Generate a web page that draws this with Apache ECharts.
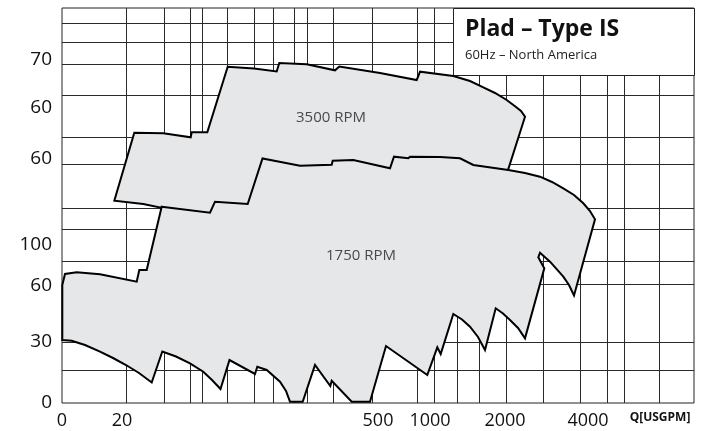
<!DOCTYPE html>
<html>
<head>
<meta charset="utf-8">
<script src="https://cdn.jsdelivr.net/npm/echarts@6/dist/echarts.min.js"></script>
<style>html,body{margin:0;padding:0;background:#fff}#c{width:707px;height:431px}</style>
</head>
<body>
<div id="c"></div>
<script>
// Chart units: x 0..632 (left to right), y 0..395 (bottom to top)
const xTickPos = [0, 60, 316, 368, 443, 526, 598];
const xTickLabels = ['0', '20', '500', '1000', '2000', '4000', 'Q[USGPM]'];
const yTickPos = [0, 61.3, 117, 158, 244, 295, 343];
const yTickLabels = ['0', '30', '60', '100', '60', '60', '70'];

const xGridLines = [64, 102, 128.3, 140, 164.7, 192.3, 211.3, 232, 245, 271.3, 309.7, 354.7, 372.3, 395.3, 417.3, 443.5, 481.3, 518, 545.3, 562, 597.3];
const yGridLines = [379.7, 360.7, 338.7, 308, 266.3, 238.7, 194.7, 173.7, 142, 119, 60.7, 32.7];

const rpm3500 = [
  [52.3, 202.3], [72.3, 270.3], [101.3, 269.7], [128.7, 265.7], [129.7, 270.7], [145.3, 270.7],
  [165.7, 336.3], [192, 334.5], [214.7, 331.5], [217.3, 340], [244.7, 338.7], [273, 332.7],
  [277.3, 336.5], [318, 330], [354.7, 323], [358, 331.3], [391.3, 327], [408, 322], [421.3, 315.7],
  [433, 310], [444.7, 303], [454, 296], [459, 292], [463, 286.3], [446, 233],
  [438, 218], [206, 221], [183, 181], [103, 181], [98.5, 195.5], [81.3, 199]
];

const rpm1750 = [
  [99.7, 196.3], [148, 190.3], [153, 201.3], [185.7, 199], [200.5, 244.5], [238, 237.3],
  [269.7, 238.2], [270.7, 242.3], [291.3, 243], [328, 234.7], [332, 246.3], [346.3, 244.7],
  [348, 246.3], [378, 246], [398, 244.7], [411.3, 238], [446.3, 233], [463, 230], [478, 226.3],
  [490, 221], [501.3, 214.7], [512, 208], [521.3, 199.7], [528, 192], [533, 183.7],
  [512, 107.5], [507, 118], [501.3, 126.3], [488, 141.3],
  [478, 150.3], [476.3, 145.7], [482.3, 134.7], [463, 64.7], [456, 75], [448, 83], [441, 89.5], [433.7, 94.7],
  [423, 53], [416, 66], [408, 76.3], [400, 83.5], [391.3, 89], [378.7, 49], [375.3, 55.7], [365.3, 28], [324, 57],
  [308, 1.3], [289.7, 1.3], [269.7, 22.3], [268.3, 17], [253, 38], [240.7, 1.3], [228, 1.3],
  [224, 12], [218, 21.3], [204.7, 33], [195.3, 36.3], [193, 29], [167.5, 43], [158.5, 14],
  [150, 23], [141.3, 31.3], [128, 39.7], [114, 46.5], [100.3, 51.5], [89.7, 20.5], [77, 30], [64, 38],
  [51, 45], [38, 51.3], [23, 58], [9.7, 62.3],
  [0.3, 63], [0.3, 118], [3, 129], [14.7, 130.7], [38, 128.7], [74.7, 121.3], [77.3, 133],
  [84.7, 133]
];

const curveLabels = [
  { name: '3500 RPM', value: [269, 285] },
  { name: '1750 RPM', value: [299, 147] }
];
const titleBox = [[391.3, 328], [632, 395]];

const X_MIN = 0, X_MAX = 632, Y_MIN = 0, Y_MAX = 395;
const FONT = 'Open Sans';

function polygonRender(pts) {
  return function (params, api) {
    if (params.dataIndex !== 0) return null;
    return {
      type: 'polygon',
      shape: { points: pts.map(p => api.coord(p)) },
      style: { fill: '#e6e7e9', stroke: '#000', lineWidth: 2, lineJoin: 'miter', miterLimit: 4 }
    };
  };
}

function vLine(params, api) {
  const a = api.coord([api.value(0), Y_MIN]);
  const b = api.coord([api.value(0), Y_MAX]);
  const x = Math.round(a[0]) + 0.5;
  return { type: 'line', shape: { x1: x, y1: a[1], x2: x, y2: b[1] }, style: { stroke: '#2a2a2a', lineWidth: 1 } };
}
function hLine(params, api) {
  const a = api.coord([X_MIN, api.value(1)]);
  const b = api.coord([X_MAX, api.value(1)]);
  const y = Math.round(a[1]) + 0.5;
  return { type: 'line', shape: { x1: a[0], y1: y, x2: b[0], y2: y }, style: { stroke: '#2a2a2a', lineWidth: 1 } };
}
function boxRender(params, api) {
  if (params.dataIndex !== 0) return null;
  const a = api.coord(titleBox[0]);
  const b = api.coord(titleBox[1]);
  const x = Math.round(a[0]) + 0.5, y = Math.round(b[1]) + 0.5;
  return {
    type: 'rect',
    shape: { x: x, y: y, width: Math.round(b[0]) - Math.round(a[0]), height: Math.round(a[1]) - Math.round(b[1]) },
    style: { fill: '#fff', stroke: '#222', lineWidth: 1 }
  };
}

const chart = echarts.init(document.getElementById('c'), null, { renderer: 'canvas' });
chart.setOption({
  animation: false,
  backgroundColor: '#fff',
  grid: { left: 62, right: 13, top: 8, bottom: 28, show: true, borderColor: '#222', borderWidth: 1, backgroundColor: 'transparent' },
  title: {
    text: 'Plad – Type IS',
    subtext: '60Hz – North America',
    left: 460, top: 13, itemGap: 8,
    textStyle: { fontFamily: FONT, fontWeight: 'bold', fontSize: 23, color: '#111' },
    subtextStyle: { fontFamily: FONT, fontSize: 13, color: '#222' },
    z: 20
  },
  xAxis: {
    type: 'value', min: X_MIN, max: X_MAX,
    axisLine: { show: false }, axisTick: { show: false }, splitLine: { show: false },
    axisLabel: {
      customValues: xTickPos,
      margin: 9,
      formatter: v => {
        const i = xTickPos.indexOf(v);
        const t = i >= 0 ? xTickLabels[i] : '';
        return i === xTickLabels.length - 1 ? '{b|' + t + '}' : t;
      },
      fontFamily: FONT, fontSize: 18, color: '#111',
      rich: { b: { fontFamily: FONT, fontSize: 12, fontWeight: 'bold', color: '#111' } }
    }
  },
  yAxis: {
    type: 'value', min: Y_MIN, max: Y_MAX,
    axisLine: { show: false }, axisTick: { show: false }, splitLine: { show: false },
    axisLabel: {
      customValues: yTickPos,
      margin: 10,
      formatter: v => { const i = yTickPos.indexOf(v); return i >= 0 ? yTickLabels[i] : ''; },
      fontFamily: FONT, fontSize: 19, color: '#111'
    }
  },
  series: [
    { type: 'custom', name: 'vgrid', renderItem: vLine, data: xGridLines.map(v => [v, 0]), z: 1, silent: true, clip: false },
    { type: 'custom', name: 'hgrid', renderItem: hLine, data: yGridLines.map(v => [0, v]), z: 1, silent: true, clip: false },
    { type: 'custom', name: 'box', renderItem: boxRender, data: titleBox, z: 3, silent: true, clip: false },
    { type: 'custom', name: '3500 RPM', renderItem: polygonRender(rpm3500), data: rpm3500, z: 4, clip: false, silent: true },
    { type: 'custom', name: '1750 RPM', renderItem: polygonRender(rpm1750), data: rpm1750, z: 5, clip: false, silent: true },
    {
      type: 'scatter', name: 'labels', data: curveLabels, symbolSize: 0, z: 6, silent: true,
      label: { show: true, position: 'inside', formatter: p => p.name, fontFamily: FONT, fontSize: 15, color: '#222' }
    }
  ]
});
</script>
</body>
</html>
